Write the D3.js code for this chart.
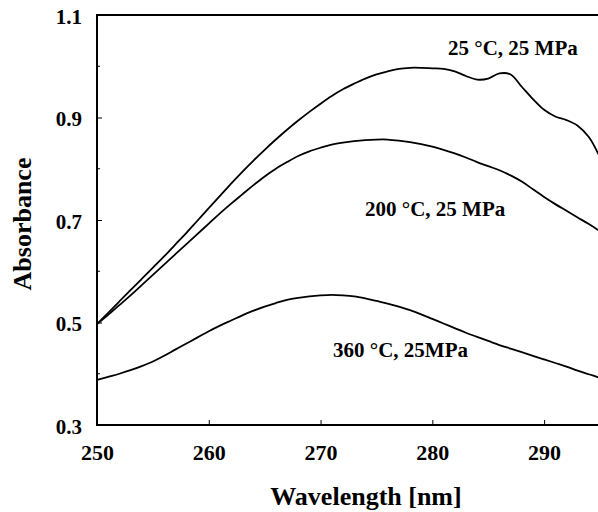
<!DOCTYPE html>
<html>
<head>
<meta charset="utf-8">
<script src="https://cdn.jsdelivr.net/npm/d3@7"></script>
<style>
  html, body { margin: 0; padding: 0; background: #fff; }
  svg { display: block; }
  text { font-family: "Liberation Serif", "Times New Roman", serif; font-weight: bold; fill: #000; }
</style>
</head>
<body>
<div id="chart"></div>
<script>
// Wavelength grid (nm) and absorbance
const wavelengths = d3.range(250, 296);

const abs25 = [
  0.497, 0.519, 0.541, 0.563, 0.585, 0.607, 0.629, 0.652, 0.675, 0.699,
  0.723, 0.747, 0.771, 0.794, 0.816, 0.837, 0.857, 0.876, 0.894, 0.911,
  0.927, 0.942, 0.955, 0.966, 0.976, 0.984, 0.990, 0.995, 0.997, 0.997,
  0.996, 0.995, 0.990, 0.981, 0.974, 0.976, 0.986, 0.984, 0.960, 0.936,
  0.915, 0.902, 0.895, 0.884, 0.862, 0.822
];

const abs200 = [
  0.497, 0.515, 0.534, 0.553, 0.573, 0.593, 0.613, 0.633, 0.653, 0.673,
  0.693, 0.713, 0.732, 0.750, 0.768, 0.785, 0.800, 0.813, 0.825, 0.834,
  0.841, 0.847, 0.851, 0.854, 0.856, 0.857, 0.857, 0.855, 0.852, 0.848,
  0.843, 0.837, 0.830, 0.822, 0.813, 0.805, 0.797, 0.787, 0.775, 0.760,
  0.745, 0.731, 0.718, 0.705, 0.692, 0.678
];

const abs360 = [
  0.388, 0.394, 0.400, 0.407, 0.415, 0.424, 0.435, 0.447, 0.459, 0.471,
  0.483, 0.494, 0.504, 0.514, 0.523, 0.531, 0.538, 0.544, 0.548, 0.551,
  0.553, 0.554, 0.553, 0.551, 0.547, 0.542, 0.537, 0.531, 0.524, 0.516,
  0.507, 0.498, 0.489, 0.480, 0.472, 0.464, 0.456, 0.449, 0.442, 0.435,
  0.428, 0.421, 0.414, 0.406, 0.399, 0.392
];

const seriesLabels = ["25 \u00B0C, 25 MPa", "200 \u00B0C, 25 MPa", "360 \u00B0C, 25MPa"];

const xTicks = [250, 260, 270, 280, 290];
const yTicks = [0.3, 0.5, 0.7, 0.9, 1.1];
const yMinorTicks = [0.4, 0.6, 0.8, 1.0];

const width = 598;
const height = 512;

const svg = d3.select("#chart")
  .append("svg")
  .attr("width", width)
  .attr("height", height);

// Scales
const x = d3.scaleLinear()
  .domain([250, 295])
  .range([97, 600]);

const y = d3.scaleLinear()
  .domain([0.3, 1.1])
  .range([425, 15]);

// Frame (left, bottom, top) - right side is cut off in the original
svg.append("path")
  .attr("d", `M${width},${y(1.1)}H${x(250)}V${y(0.3)}H${width}`)
  .attr("fill", "none")
  .attr("stroke", "#000")
  .attr("stroke-width", 2);

// Axes: ticks point into the plot
const xAxis = d3.axisBottom(x)
  .tickValues(xTicks)
  .tickSize(-5)
  .tickPadding(19)
  .tickFormat(d3.format("d"));

svg.append("g")
  .attr("transform", `translate(0,${y(0.3)})`)
  .call(xAxis)
  .call(g => g.select(".domain").remove())
  .call(g => g.selectAll(".tick line").attr("stroke", "#000").attr("stroke-width", 1))
  .call(g => g.selectAll(".tick text")
    .attr("font-size", 22)
    .attr("font-family", null));

const yAxis = d3.axisLeft(y)
  .tickValues(yTicks)
  .tickSize(-5)
  .tickPadding(15)
  .tickFormat(d3.format(".1f"));

svg.append("g")
  .attr("transform", `translate(${x(250)},0)`)
  .call(yAxis)
  .call(g => g.select(".domain").remove())
  .call(g => g.selectAll(".tick line").attr("stroke", "#000").attr("stroke-width", 1))
  .call(g => g.selectAll(".tick text")
    .attr("font-size", 21)
    .attr("font-family", null)
    .attr("dy", "0.4em"));

// minor ticks on the y axis
svg.append("g")
  .selectAll("line")
  .data(yMinorTicks)
  .join("line")
    .attr("x1", x(250))
    .attr("x2", x(250) + 3)
    .attr("y1", d => y(d))
    .attr("y2", d => y(d))
    .attr("stroke", "#000")
    .attr("stroke-width", 1);

// Spectra
const line = d3.line()
  .x(d => x(d[0]))
  .y(d => y(d[1]))
  .curve(d3.curveCatmullRom.alpha(0.5));

const series = [abs25, abs200, abs360];

svg.append("defs").append("clipPath")
  .attr("id", "plot-clip")
  .append("rect")
    .attr("x", x(250))
    .attr("y", y(1.1))
    .attr("width", width - x(250))
    .attr("height", y(0.3) - y(1.1));

svg.append("g")
  .attr("clip-path", "url(#plot-clip)")
  .selectAll("path")
  .data(series)
  .join("path")
    .attr("d", vals => line(wavelengths.map((w, i) => [w, vals[i]])))
    .attr("fill", "none")
    .attr("stroke", "#000")
    .attr("stroke-width", 1.8)
    .attr("stroke-linejoin", "round");

// Curve labels
const labelPos = [
  { x: 448, y: 55 },
  { x: 365, y: 216 },
  { x: 333, y: 357 }
];

svg.append("g")
  .selectAll("text")
  .data(seriesLabels)
  .join("text")
    .attr("x", (d, i) => labelPos[i].x)
    .attr("y", (d, i) => labelPos[i].y)
    .attr("font-size", 21)
    .text(d => d);

// Axis titles
svg.append("text")
  .attr("x", 366)
  .attr("y", 505)
  .attr("text-anchor", "middle")
  .attr("font-size", 26)
  .text("Wavelength [nm]");

svg.append("text")
  .attr("transform", "translate(31,224) rotate(-90)")
  .attr("text-anchor", "middle")
  .attr("font-size", 26)
  .text("Absorbance");
</script>
</body>
</html>
